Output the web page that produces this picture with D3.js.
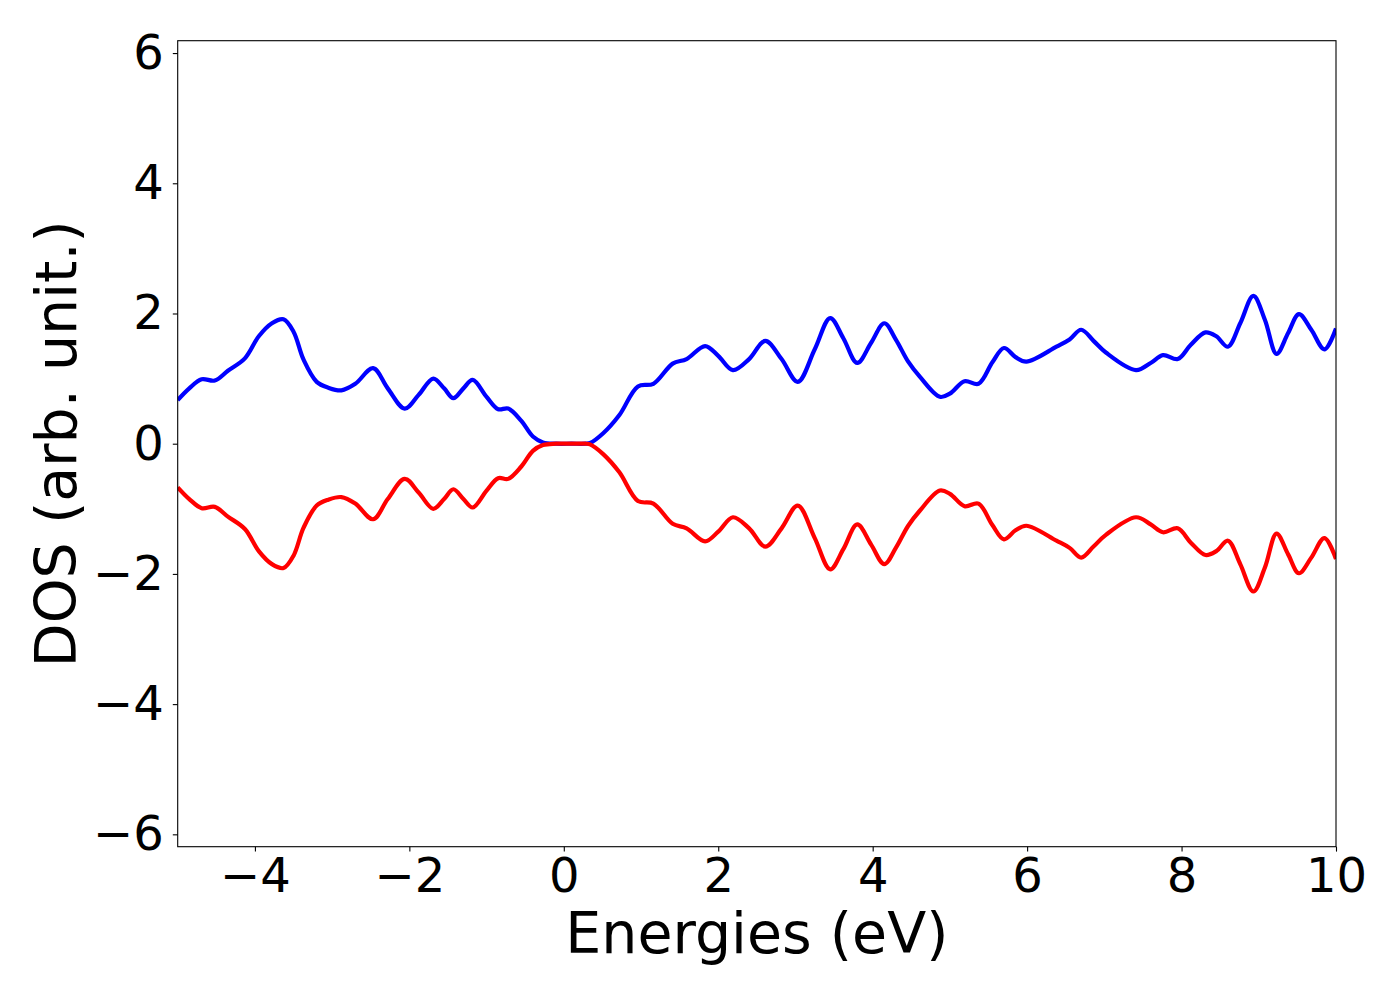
<!DOCTYPE html>
<html>
<head>
<meta charset="utf-8">
<script src="https://cdn.jsdelivr.net/npm/d3@7"></script>
<style>
  html, body { margin: 0; padding: 0; background: #fff; }
  svg text { font-family: 'DejaVu Sans', sans-serif; fill: #000; }
</style>
</head>
<body>
<svg id="chart" width="1400" height="1000"></svg>
<script>
  'use strict';

  // Energies (eV) and spin-up / spin-down DOS.
  var energies = [
    -5.00, -4.85, -4.69, -4.52, -4.35, -4.13, -3.95, -3.78, -3.63, -3.50,
    -3.37, -3.20, -3.05, -2.88, -2.70, -2.47, -2.28, -2.06, -1.88, -1.69,
    -1.55, -1.43, -1.30, -1.18, -1.00, -0.85, -0.72, -0.55, -0.40, -0.27,
    -0.10,  0.10,  0.28,  0.34,  0.51,  0.72,  0.96,  1.16,  1.41,  1.59,
     1.83,  2.00,  2.19,  2.40,  2.61,  2.82,  3.03,  3.25,  3.45,  3.62,
     3.80,  3.98,  4.15,  4.30,  4.46,  4.61,  4.87,  5.00,  5.19,  5.37,
     5.55,  5.70,  5.85,  5.99,  6.38,  6.55,  6.70,  6.86,  7.02,  7.41,
     7.60,  7.76,  7.95,  8.12,  8.31,  8.45,  8.60,  8.76,  8.93,  9.08,
     9.23,  9.38,  9.52,  9.68,  9.85, 10.00
  ];

  var dosUp = [
    0.67, 0.85, 0.99, 0.97, 1.12, 1.31, 1.65, 1.85, 1.91, 1.72,
    1.29, 0.95, 0.86, 0.82, 0.92, 1.16, 0.85, 0.54, 0.75, 1.00,
    0.85, 0.70, 0.85, 0.98, 0.72, 0.53, 0.54, 0.35, 0.11, 0.02,
    0.00, 0.00, 0.00, 0.01, 0.16, 0.44, 0.88, 0.92, 1.23, 1.30,
    1.50, 1.35, 1.13, 1.30, 1.58, 1.30, 0.95, 1.45, 1.93, 1.62,
    1.24, 1.55, 1.85, 1.60, 1.26, 1.03, 0.72, 0.77, 0.96, 0.92,
    1.25, 1.47, 1.33, 1.26, 1.49, 1.60, 1.75, 1.58, 1.40, 1.13,
    1.24, 1.36, 1.30, 1.52, 1.71, 1.65, 1.49, 1.85, 2.27, 1.90,
    1.38, 1.70, 1.99, 1.75, 1.45, 1.77
  ];

  var dosDown = [
    -0.67, -0.85, -0.99, -0.97, -1.12, -1.31, -1.65, -1.85, -1.91, -1.72,
    -1.29, -0.95, -0.86, -0.82, -0.92, -1.16, -0.85, -0.54, -0.75, -1.00,
    -0.85, -0.70, -0.85, -0.98, -0.72, -0.53, -0.54, -0.35, -0.11, -0.02,
    -0.00, -0.00, -0.00, -0.01, -0.16, -0.44, -0.88, -0.92, -1.23, -1.30,
    -1.50, -1.35, -1.13, -1.30, -1.58, -1.30, -0.95, -1.45, -1.93, -1.62,
    -1.24, -1.55, -1.85, -1.60, -1.26, -1.03, -0.72, -0.77, -0.96, -0.92,
    -1.25, -1.47, -1.33, -1.26, -1.49, -1.60, -1.75, -1.58, -1.40, -1.13,
    -1.24, -1.36, -1.30, -1.52, -1.71, -1.65, -1.49, -1.85, -2.27, -1.90,
    -1.38, -1.70, -1.99, -1.75, -1.45, -1.77
  ];

  var xTicks = [-4, -2, 0, 2, 4, 6, 8, 10],
      yTicks = [-6, -4, -2, 0, 2, 4, 6];

  var xLabel = 'Energies (eV)',
      yLabel = 'DOS (arb. unit.)';

  var blue = '#0000ff',
      red  = '#ff0000';

  var plotLeft   = 177.7,
      plotRight  = 1336,
      plotTop    = 40.7,
      plotBottom = 846.7;

  var svg = d3.select( '#chart' );

  var x = d3.scaleLinear().domain( [ -5, 10 ] ).range( [ plotLeft, plotRight ] ),
      y = d3.scaleLinear().domain( [ -6.19, 6.19 ] ).range( [ plotBottom, plotTop ] );

  function minus( v ) {
    return String( v ).replace( '-', '\u2212' );
  }

  svg.append( 'clipPath' )
      .attr( 'id', 'plot-clip' )
    .append( 'rect' )
      .attr( 'x', plotLeft )
      .attr( 'y', plotTop )
      .attr( 'width', plotRight - plotLeft )
      .attr( 'height', plotBottom - plotTop );

  function series( ys ) {
    return energies.map( function( e, i ) { return [ e, ys[ i ] ]; });
  }

  var line = d3.line()
    .x( function( d ) { return x( d[ 0 ] ); })
    .y( function( d ) { return y( d[ 1 ] ); })
    .curve( d3.curveCatmullRom.alpha( 0.5 ) );

  var plot = svg.append( 'g' ).attr( 'clip-path', 'url(#plot-clip)' );

  // Spin up first, spin down drawn on top.
  plot.append( 'path' )
    .datum( series( dosUp ) )
    .attr( 'd', line )
    .attr( 'fill', 'none' )
    .attr( 'stroke', blue )
    .attr( 'stroke-width', 4.2 )
    .attr( 'stroke-linejoin', 'round' );

  plot.append( 'path' )
    .datum( series( dosDown ) )
    .attr( 'd', line )
    .attr( 'fill', 'none' )
    .attr( 'stroke', red )
    .attr( 'stroke-width', 4.2 )
    .attr( 'stroke-linejoin', 'round' );

  // Axes.
  var xAxis = svg.append( 'g' )
    .attr( 'transform', 'translate(0,' + plotBottom + ')' )
    .call( d3.axisBottom( x )
      .tickValues( xTicks )
      .tickFormat( minus )
      .tickSize( 4.9 )
      .tickPadding( 6.5 ) );

  var yAxis = svg.append( 'g' )
    .attr( 'transform', 'translate(' + plotLeft + ',0)' )
    .call( d3.axisLeft( y )
      .tickValues( yTicks )
      .tickFormat( minus )
      .tickSize( 4.9 )
      .tickPadding( 9 ) );

  [ xAxis, yAxis ].forEach( function( g ) {
    g.select( '.domain' ).remove();
    g.selectAll( '.tick line' ).attr( 'stroke', '#000' ).attr( 'stroke-width', 1.1 );
    g.selectAll( '.tick text' )
      .style( 'font-family', "'DejaVu Sans', sans-serif" )
      .style( 'font-size', '48px' )
      .attr( 'fill', '#000' );
  });

  // Frame.
  svg.append( 'rect' )
    .attr( 'x', plotLeft )
    .attr( 'y', plotTop )
    .attr( 'width', plotRight - plotLeft )
    .attr( 'height', plotBottom - plotTop )
    .attr( 'fill', 'none' )
    .attr( 'stroke', '#000' )
    .attr( 'stroke-width', 1.1 );

  svg.append( 'text' )
    .attr( 'x', ( plotLeft + plotRight ) / 2 )
    .attr( 'y', 953 )
    .attr( 'text-anchor', 'middle' )
    .style( 'font-size', '57px' )
    .text( xLabel );

  svg.append( 'text' )
    .attr( 'transform', 'translate(76,' + ( plotTop + plotBottom ) / 2 + ') rotate(-90)' )
    .attr( 'text-anchor', 'middle' )
    .style( 'font-size', '57px' )
    .text( yLabel );
</script>
</body>
</html>
